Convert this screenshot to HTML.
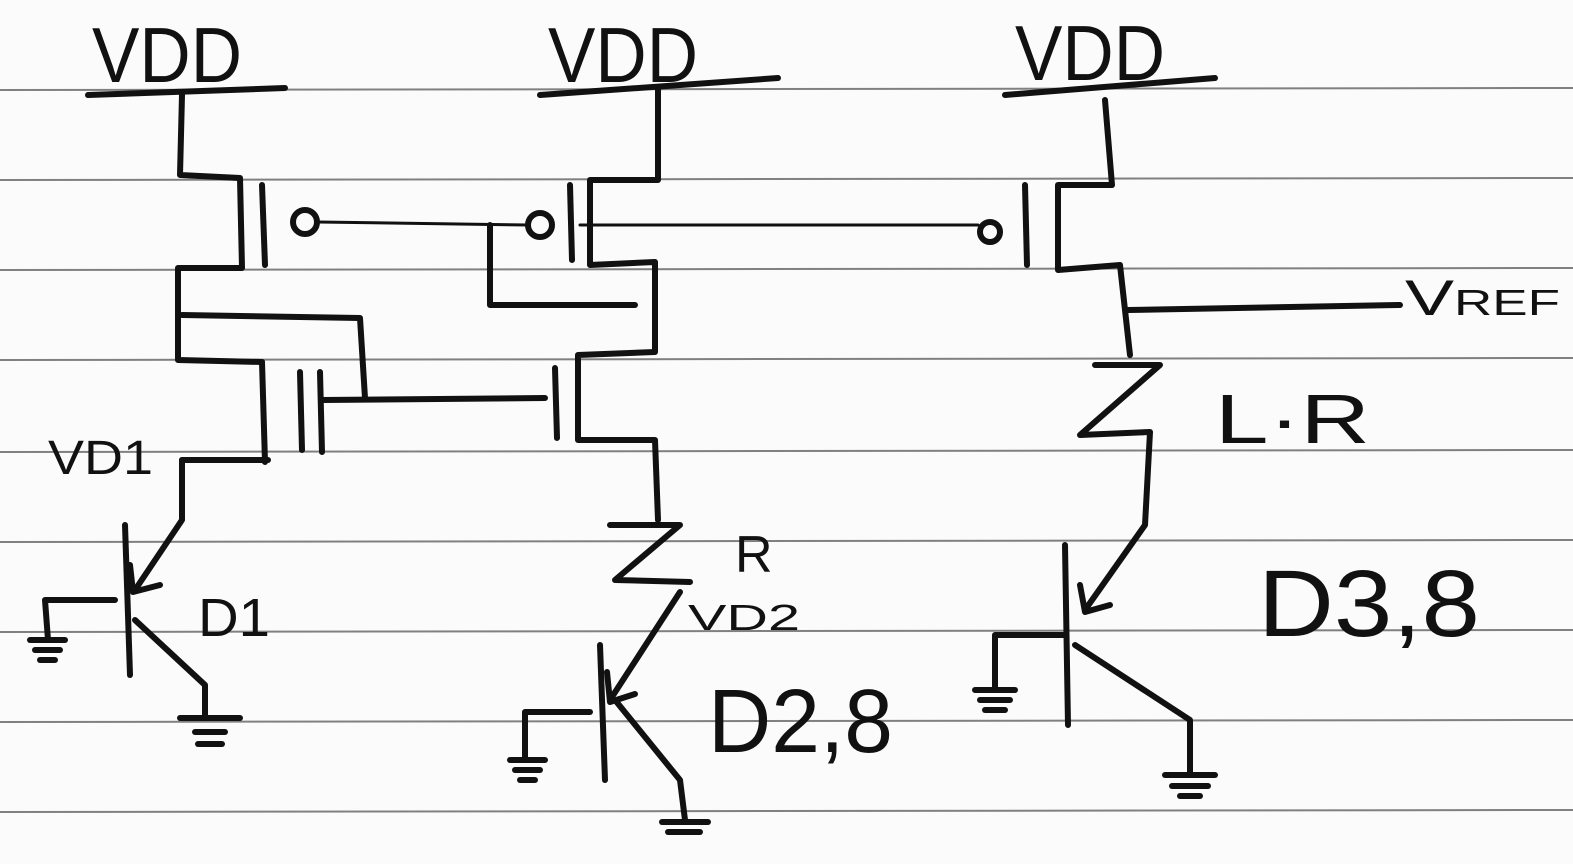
<!DOCTYPE html>
<html><head><meta charset="utf-8"><style>
html,body{margin:0;padding:0;background:#fff;}
svg{display:block}
text{font-family:"Liberation Sans",sans-serif;fill:#111;}
</style></head><body>
<svg width="1573" height="864" viewBox="0 0 1573 864" xmlns="http://www.w3.org/2000/svg">
<rect width="1573" height="864" fill="#fbfbfb"/>
<g stroke="#808080" stroke-width="2">
<line x1="0" y1="90" x2="1573" y2="88"/>
<line x1="0" y1="180" x2="1573" y2="178"/>
<line x1="0" y1="270" x2="1573" y2="268"/>
<line x1="0" y1="360" x2="1573" y2="358"/>
<line x1="0" y1="452" x2="1573" y2="450"/>
<line x1="0" y1="542" x2="1573" y2="540"/>
<line x1="0" y1="632" x2="1573" y2="630"/>
<line x1="0" y1="722" x2="1573" y2="720"/>
<line x1="0" y1="812" x2="1573" y2="810"/>
</g>
<g stroke="#111" stroke-width="6" fill="none" stroke-linecap="round" stroke-linejoin="round">
<line x1="88" y1="95" x2="285" y2="88"/>
<line x1="540" y1="95" x2="778" y2="78"/>
<line x1="1005" y1="95" x2="1215" y2="78"/>
<polyline points="182,95 180,175 240,178 242,268 178,268 178,360 262,362"/>
<line x1="262" y1="185" x2="265" y2="265"/>
<circle cx="305" cy="222" r="12"/>
<line x1="318" y1="222" x2="528" y2="225" stroke-width="3"/>
<circle cx="540" cy="225" r="12"/>
<line x1="262" y1="362" x2="265" y2="462"/>
<line x1="300" y1="372" x2="302" y2="450"/>
<line x1="320" y1="372" x2="322" y2="452"/>
<polyline points="182,460 268,460"/>
<polyline points="182,315 360,318 365,398"/>
<line x1="322" y1="400" x2="545" y2="398"/>
<polyline points="658,90 658,180 590,180 590,265 655,262 655,352 578,355 578,440 655,440 658,520"/>
<line x1="570" y1="185" x2="572" y2="260"/>
<polyline points="490,225 490,305 635,305"/>
<line x1="555" y1="368" x2="557" y2="438"/>
<line x1="580" y1="225" x2="978" y2="225" stroke-width="3"/>
<circle cx="990" cy="232" r="10"/>
<line x1="1025" y1="185" x2="1027" y2="265"/>
<polyline points="1105,100 1112,185 1058,185 1058,270 1120,265 1130,355"/>
<line x1="1128" y1="310" x2="1400" y2="305"/>
<polyline points="1095,365 1160,365 1080,435 1150,432 1145,525 1085,610"/>
<polyline points="1080,585 1085,612 1110,605"/>
<line x1="1065" y1="545" x2="1068" y2="725"/>
<polyline points="1075,645 1190,720 1190,775"/>
<line x1="1165" y1="775" x2="1215" y2="775"/>
<line x1="1172" y1="786" x2="1208" y2="786"/>
<line x1="1180" y1="796" x2="1200" y2="796"/>
<polyline points="1065,635 995,635 995,690"/>
<line x1="975" y1="690" x2="1015" y2="690"/>
<line x1="980" y1="700" x2="1010" y2="700"/>
<line x1="985" y1="710" x2="1005" y2="710"/>
<polyline points="610,525 680,525 615,580 690,582"/>
<polyline points="680,592 610,700"/>
<polyline points="607,672 610,702 635,694"/>
<line x1="600" y1="645" x2="605" y2="780"/>
<polyline points="590,712 525,712 525,760"/>
<line x1="510" y1="760" x2="545" y2="760"/>
<line x1="515" y1="770" x2="540" y2="770"/>
<line x1="520" y1="780" x2="535" y2="780"/>
<polyline points="615,700 680,780 685,820"/>
<line x1="662" y1="822" x2="708" y2="822"/>
<line x1="668" y1="832" x2="700" y2="832"/>
<polyline points="182,460 182,520 135,590"/>
<polyline points="130,565 133,592 160,585"/>
<line x1="125" y1="525" x2="130" y2="675"/>
<polyline points="115,600 45,600 48,640"/>
<line x1="30" y1="640" x2="65" y2="640"/>
<line x1="35" y1="650" x2="60" y2="650"/>
<line x1="40" y1="660" x2="55" y2="660"/>
<polyline points="135,620 205,685 205,715"/>
<line x1="180" y1="718" x2="240" y2="718"/>
<line x1="195" y1="732" x2="225" y2="732"/>
<line x1="198" y1="744" x2="222" y2="744"/>
</g>
<text x="92" y="82" font-size="78" textLength="150" lengthAdjust="spacingAndGlyphs">VDD</text>
<text x="548" y="82" font-size="78" textLength="150" lengthAdjust="spacingAndGlyphs">VDD</text>
<text x="1015" y="80" font-size="78" textLength="150" lengthAdjust="spacingAndGlyphs">VDD</text>
<text x="1405" y="315" font-size="50" textLength="155" lengthAdjust="spacingAndGlyphs">V<tspan font-size="36">REF</tspan></text>
<text x="1215" y="443" font-size="70" textLength="155" lengthAdjust="spacingAndGlyphs">L·R</text>
<text x="48" y="474" font-size="48" textLength="105" lengthAdjust="spacingAndGlyphs">VD1</text>
<text x="198" y="636" font-size="54" textLength="72" lengthAdjust="spacingAndGlyphs">D1</text>
<text x="735" y="572" font-size="52">R</text>
<text x="688" y="630" font-size="36" textLength="112" lengthAdjust="spacingAndGlyphs">VD2</text>
<text x="708" y="752" font-size="90" textLength="185" lengthAdjust="spacingAndGlyphs">D2,8</text>
<text x="1258" y="636" font-size="95" textLength="222" lengthAdjust="spacingAndGlyphs">D3,8</text>
</svg>
</body></html>
